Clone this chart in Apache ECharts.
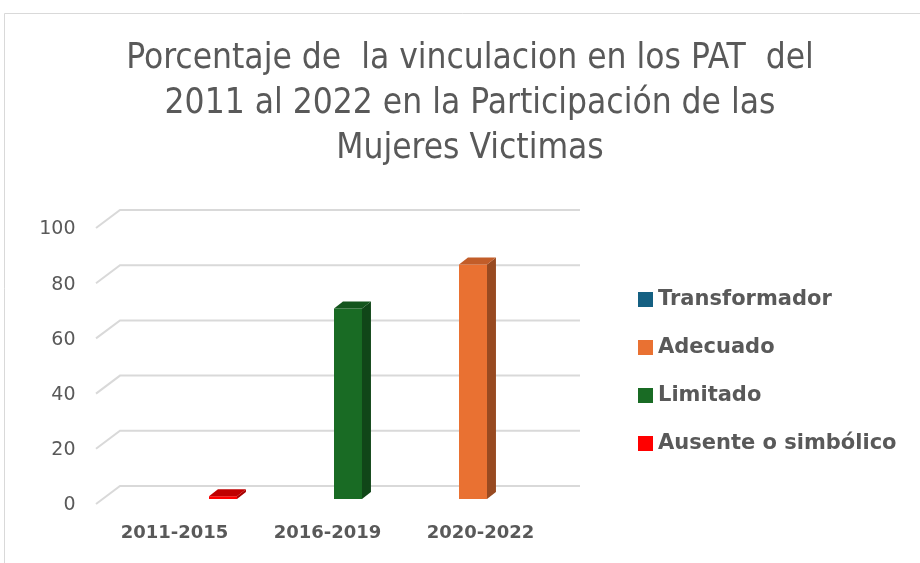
<!DOCTYPE html>
<html>
<head>
<meta charset="utf-8">
<script src="https://cdn.jsdelivr.net/npm/echarts@6/dist/echarts.min.js"></script>
<style>
  html, body { margin: 0; padding: 0; background: #fff; }
  #chart { width: 920px; height: 563px; }
</style>
</head>
<body>
<div id="chart"></div>
<script>
// 数据
const categories = ['2011-2015', '2016-2019', '2020-2022']
const seriesNames = ['Transformador', 'Adecuado', 'Limitado', 'Ausente o simbólico']
const transformador = [0, 0, 0]
const adecuado = [0, 0, 85]
const limitado = [0, 69, 0]
const ausente = [1, 0, 0]
const yTicks = [0, 20, 40, 60, 80, 100]

// 颜色: 正面 / 侧面 / 顶面
const colors = [
  ['#156082', '#0e4159', '#11506d'],
  ['#e97132', '#984a21', '#c25d29'],
  ['#196b24', '#104618', '#14551d'],
  ['#ff0000', '#a80000', '#c00000']
]

const chart = echarts.init(document.getElementById('chart'))

// 3D 柱子
const makeBar = (name, values, slot) => ({
  name: name,
  type: 'custom',
  itemStyle: { color: colors[slot][0] },
  data: values.map((v, i) => [i, v]),
  z: 3,
  renderItem: (params, api) => {
    const v = api.value(1)
    if (!v) return null
    const cat = api.value(0)
    const base = api.coord([cat, 0])
    const top = api.coord([cat, v])
    const band = api.size([1, 0])[0]
    const w = band * 0.183
    const x0 = base[0] - 2 * w + slot * w
    const dx = w * 0.32
    const dy = -w * 0.25
    const h = base[1] - top[1]
    return {
      type: 'group',
      children: [
        { type: 'rect', shape: { x: x0, y: top[1], width: w, height: h },
          style: { fill: colors[slot][0] } },
        { type: 'polygon', shape: { points: [[x0 + w, top[1]], [x0 + w + dx, top[1] + dy], [x0 + w + dx, base[1] + dy], [x0 + w, base[1]]] },
          style: { fill: colors[slot][1] } },
        { type: 'polygon', shape: { points: [[x0, top[1]], [x0 + dx, top[1] + dy], [x0 + w + dx, top[1] + dy], [x0 + w, top[1]]] },
          style: { fill: colors[slot][2] } }
      ]
    }
  }
})

// 网格线 (带左侧斜线)
const walls = {
  type: 'custom',
  silent: true,
  z: 1,
  data: yTicks.map(t => [0, t]),
  renderItem: (params, api) => {
    const cs = params.coordSys
    const y = api.coord([0, api.value(1)])[1]
    return {
      type: 'polyline',
      shape: { points: [[cs.x - 8.5, y + 5], [cs.x + 15.5, y - 13], [cs.x + cs.width + 16.5, y - 13]] },
      style: { stroke: '#d9d9d9', lineWidth: 2, fill: null }
    }
  }
}

const option = {
  backgroundColor: '#fff',
  animation: false,
  title: {
    text: 'Porcentaje de  la vinculacion en los PAT  del\n2011 al 2022 en la Participación de las\nMujeres Victimas',
    left: 465,
    textAlign: 'center',
    top: 31,
    textStyle: {
      fontFamily: "'DejaVu Sans Condensed', 'Liberation Sans', sans-serif",
      fontSize: 35,
      fontWeight: 'normal',
      color: '#595959',
      lineHeight: 45
    }
  },
  graphic: [
    { type: 'polyline', shape: { points: [[4.5, 563], [4.5, 13.5], [920, 13.5]] },
      style: { stroke: '#d9d9d9', lineWidth: 1, fill: null } }
  ],
  legend: {
    orient: 'vertical',
    left: 633,
    top: 284,
    icon: 'rect',
    itemWidth: 15,
    itemHeight: 15,
    itemGap: 27,
    data: seriesNames,
    textStyle: { fontFamily: 'DejaVu Sans', fontSize: 21, fontWeight: 'bold', color: '#595959' }
  },
  grid: { left: 104.5, top: 223, width: 459, height: 276 },
  xAxis: {
    type: 'category',
    data: categories,
    axisLine: { show: false },
    axisTick: { show: false },
    axisLabel: {
      margin: 25,
      padding: [0, 13, 0, 0],
      fontFamily: 'DejaVu Sans',
      fontSize: 18,
      fontWeight: 'bold',
      color: '#595959'
    }
  },
  yAxis: {
    type: 'value',
    min: 0,
    max: 100,
    interval: 20,
    axisLine: { show: false },
    axisTick: { show: false },
    splitLine: { show: false },
    axisLabel: {
      margin: 29,
      formatter: '{a|{value}}',
      rich: {
        a: {
          padding: [13, 0, 0, 0],
          fontFamily: 'DejaVu Sans',
          fontSize: 19,
          color: '#595959'
        }
      }
    }
  },
  series: [
    walls,
    makeBar(seriesNames[0], transformador, 0),
    makeBar(seriesNames[1], adecuado, 1),
    makeBar(seriesNames[2], limitado, 2),
    makeBar(seriesNames[3], ausente, 3)
  ]
}

chart.setOption(option)
</script>
</body>
</html>
